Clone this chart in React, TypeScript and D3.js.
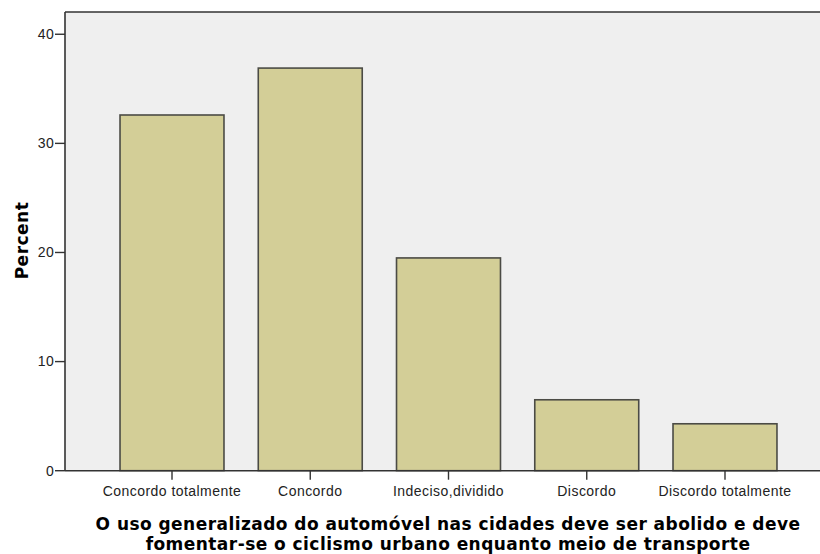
import React from "react";
import * as d3 from "d3";

const categories = [
  "Concordo totalmente",
  "Concordo",
  "Indeciso,dividido",
  "Discordo",
  "Discordo totalmente",
];
const percents = [32.6, 36.9, 19.5, 6.5, 4.3];
const yTicks = [0, 10, 20, 30, 40];
const xTitleLines = [
  "O uso generalizado do automóvel nas cidades deve ser abolido e deve",
  "fomentar-se o ciclismo urbano enquanto meio de transporte",
];
const yTitle = "Percent";

const W = 820;
const H = 554;
const left = 65;
const top = 12;
const bottom = 470.7;
const right = 832;

export default function App() {
  const x = d3
    .scaleBand<string>()
    .domain(categories)
    .range([left, right])
    .paddingInner(0.248)
    .paddingOuter(0.398);
  const y = d3.scaleLinear().domain([0, 42.04]).range([bottom, top]);
  const tickFont = "'Liberation Sans', Arial, sans-serif";
  const titleFont = "'DejaVu Sans', Verdana, sans-serif";
  return (
    <svg
      width={W}
      height={H}
      style={{ position: "absolute", left: 0, top: 0, background: "#fff" }}
    >
      <defs>
        <clipPath id="plotclip">
          <rect x={left} y={top - 1} width={W - left} height={bottom - top + 2} />
        </clipPath>
      </defs>
      <rect x={left} y={top} width={W - left} height={bottom - top} fill="#EFEFEF" />
      <g clipPath="url(#plotclip)">
        {categories.map((c, i) => (
          <rect
            key={c}
            x={x(c)!}
            y={y(percents[i])}
            width={x.bandwidth()}
            height={bottom - y(percents[i])}
            fill="#D3CE97"
            stroke="#4B4B45"
            strokeWidth={1.6}
          />
        ))}
      </g>
      <line x1={left} x2={W} y1={top} y2={top} stroke="#333" strokeWidth={1.6} />
      <line x1={left} x2={left} y1={top} y2={bottom} stroke="#333" strokeWidth={1.6} />
      <line x1={left} x2={W} y1={bottom} y2={bottom} stroke="#333" strokeWidth={1.6} />
      {yTicks.map((t) => (
        <g key={t}>
          <line x1={left - 10} x2={left} y1={y(t)} y2={y(t)} stroke="#333" strokeWidth={1.4} />
          <text
            x={left - 11}
            y={y(t)}
            dy="0.35em"
            textAnchor="end"
            fontFamily={tickFont}
            fontSize={14}
            letterSpacing={0.3}
            fill="#222"
          >
            {t}
          </text>
        </g>
      ))}
      {categories.map((c) => {
        const cx = x(c)! + x.bandwidth() / 2;
        return (
          <g key={c}>
            <line x1={cx} x2={cx} y1={bottom} y2={bottom + 9} stroke="#333" strokeWidth={1.4} />
            <text
              x={cx}
              y={496}
              textAnchor="middle"
              fontFamily={tickFont}
              fontSize={14}
              letterSpacing={0.45}
              fill="#222"
            >
              {c}
            </text>
          </g>
        );
      })}
      {xTitleLines.map((l, i) => (
        <text
          key={i}
          x={448}
          y={530 + i * 20}
          textAnchor="middle"
          fontFamily={titleFont}
          fontWeight="bold"
          fontSize={17}
          letterSpacing={0.45}
          fill="#000"
        >
          {l}
        </text>
      ))}
      <text
        transform={`translate(27.5,240.5) rotate(-90)`}
        textAnchor="middle"
        fontFamily={titleFont}
        fontWeight="bold"
        fontSize={17}
        letterSpacing={0.5}
        fill="#000"
      >
        {yTitle}
      </text>
    </svg>
  );
}
